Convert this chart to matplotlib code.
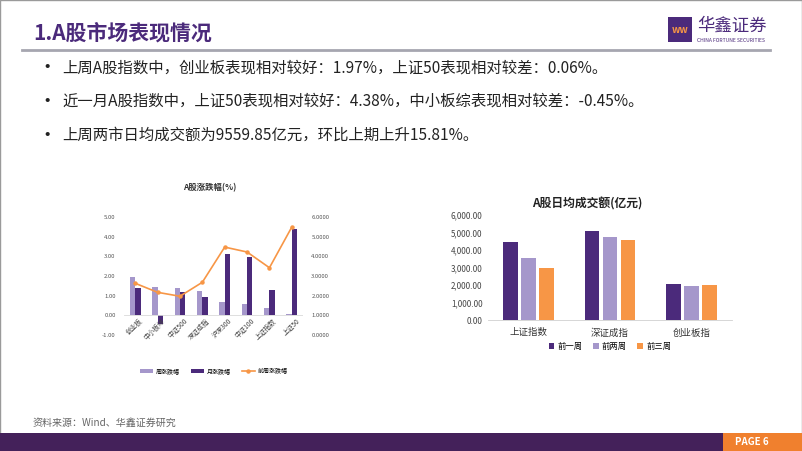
import numpy as np
import matplotlib
matplotlib.use("Agg")
import matplotlib.pyplot as plt
from matplotlib.patches import Rectangle

plt.rcParams['font.family'] = ['Noto Sans CJK SC', 'DejaVu Sans']

# left chart data
idx_names = ["创业板", "中小板综", "中证500", "深证成指", "沪深300", "中证100", "上证指数", "上证50"]
week_chg = [1.97, 1.45, 1.38, 1.22, 0.70, 0.57, 0.37, 0.06]
month_chg = [1.37, -0.45, 1.20, 0.95, 3.12, 2.95, 1.30, 4.38]
prev_week_chg = [2.63, 2.17, 1.97, 2.68, 4.47, 4.22, 3.42, 5.49]

# right chart data
vol_names = ["上证指数", "深证成指", "创业板指"]
vol_w1 = [4480, 5100, 2080]
vol_w2 = [3530, 4720, 1950]
vol_w3 = [3000, 4600, 2010]

PURPLE = "#4B2A7B"
LIGHT = "#A597CB"
ORANGE = "#F79646"

W, H = 802, 451
fig = plt.figure(figsize=(W / 100, H / 100), dpi=100)
fig.patch.set_facecolor("white")


def rect(x0, y0, x1, y1):
    # pixel box -> figure fraction
    return [x0 / W, 1 - y1 / H, (x1 - x0) / W, (y1 - y0) / H]


def fx(x):
    return x / W


def fy(y):
    return 1 - y / H


# slide frame
fig.patches.append(Rectangle((0, 0), 1, 1, transform=fig.transFigure, fill=False,
                             edgecolor="#9a9a9a", linewidth=1))

# header
fig.text(fx(33), fy(33), "1.A股市场表现情况", fontsize=15, fontweight="bold", color=PURPLE,
         va="center", ha="left")
fig.add_artist(plt.Line2D([fx(22), fx(770)], [fy(50), fy(50)], color="#A6A6B0", linewidth=2))
fig.patches.append(Rectangle((fx(668), fy(42)), 24 / W, 25 / H, transform=fig.transFigure,
                             facecolor=PURPLE, edgecolor="none"))
fig.text(fx(680), fy(30), "ww", fontsize=7, color=ORANGE, fontweight="bold", ha="center", va="center")
fig.text(fx(697), fy(26), "华鑫证券", fontsize=12.5, color=PURPLE, ha="left", va="center")
fig.text(fx(697), fy(40), "CHINA FORTUNE SECURITIES", fontsize=3.6, color=PURPLE, ha="left", va="center")

# bullets
bullets = [
    "上周A股指数中，创业板表现相对较好：1.97%，上证50表现相对较差：0.06%。",
    "近一月A股指数中，上证50表现相对较好：4.38%，中小板综表现相对较差：-0.45%。",
    "上周两市日均成交额为9559.85亿元，环比上期上升15.81%。",
]
for i, b in enumerate(bullets):
    y = 68 + i * 33.5
    fig.text(fx(37), fy(y), "•", fontsize=14, color="#222222", va="center")
    fig.text(fx(62), fy(y), b, fontsize=11.1, color="#222222", va="center")

# ---- left chart ----
ax1 = fig.add_axes(rect(124, 217, 303, 335))
x = np.arange(len(idx_names))
bw = 0.24
ax1.bar(x - bw / 2, week_chg, bw, color=LIGHT, label="周涨跌幅")
ax1.bar(x + bw / 2, month_chg, bw, color=PURPLE, label="月涨跌幅")
ax1.set_xlim(-0.5, len(idx_names) - 0.5)
ax1.set_ylim(-1, 5)
ax1.set_yticks(np.arange(-1, 5.1, 1))
ax1.set_yticklabels(["%.2f" % v for v in np.arange(-1, 5.1, 1)])
ax1.axhline(0, color="#d9d9d9", linewidth=0.6)
ax1.set_xticks([])
# category labels sit on the zero line, like Excel does
for i, name in enumerate(idx_names):
    ax1.text(i + 0.15, -0.08, name, rotation=45, ha="right", va="top", rotation_mode="anchor",
             fontsize=4.8, color="#444444")
ax1.tick_params(axis="y", length=0, labelsize=4.3, colors="#555555", pad=6)
for s in ax1.spines.values():
    s.set_visible(False)

ax1b = ax1.twinx()
ax1b.plot(x, prev_week_chg, color=ORANGE, linewidth=1.2, marker="o", markersize=2.2,
          label="前周涨跌幅")
ax1b.set_ylim(0, 6)
ax1b.set_yticks(np.arange(0, 6.1, 1))
ax1b.set_yticklabels(["%.4f" % v for v in np.arange(0, 6.1, 1)])
ax1b.tick_params(axis="y", length=0, labelsize=4.3, colors="#555555", pad=6)
for s in ax1b.spines.values():
    s.set_visible(False)

fig.text(fx(210), fy(188), "A股涨跌幅(%)", fontsize=6, fontweight="bold", color="#333333",
         ha="center", va="center")
h1, l1 = ax1.get_legend_handles_labels()
h2, l2 = ax1b.get_legend_handles_labels()
fig.legend(h1 + h2, l1 + l2, loc="center", bbox_to_anchor=(fx(214), fy(371)), ncol=3,
           frameon=False, fontsize=4.3, handlelength=2.2, handleheight=0.5, columnspacing=1.8,
           handletextpad=0.5)

# ---- right chart ----
ax2 = fig.add_axes(rect(488, 215, 732, 320))
x2 = np.arange(len(vol_names))
bw2 = 0.18
step = 0.22
ax2.bar(x2 - step, vol_w1, bw2, color=PURPLE, label="前一周")
ax2.bar(x2, vol_w2, bw2, color=LIGHT, label="前两周")
ax2.bar(x2 + step, vol_w3, bw2, color=ORANGE, label="前三周")
ax2.set_xlim(-0.5, len(vol_names) - 0.5)
ax2.set_ylim(0, 6000)
ax2.set_yticks(np.arange(0, 6001, 1000))
ax2.set_yticklabels(["{:,.2f}".format(v) for v in np.arange(0, 6001, 1000)])
ax2.set_xticks(x2)
ax2.set_xticklabels(vol_names)
ax2.tick_params(axis="x", length=0, labelsize=6.8, pad=6, colors="#333333")
ax2.tick_params(axis="y", length=0, labelsize=5.8, colors="#444444", pad=4)
for k, s in ax2.spines.items():
    s.set_visible(k == "bottom")
ax2.spines["bottom"].set_color("#d0d0d0")
ax2.spines["bottom"].set_linewidth(0.6)

fig.text(fx(587), fy(204), "A股日均成交额(亿元)", fontsize=8.5, fontweight="bold", color="#222222",
         ha="center", va="center")
ax2.legend(loc="center", bbox_to_anchor=(0.5, -0.25), ncol=3, frameon=False, fontsize=6,
           handlelength=0.7, handleheight=0.7, columnspacing=1.2, handletextpad=0.4)

# footer
fig.text(fx(33), fy(423), "资料来源：Wind、华鑫证券研究", fontsize=7.2, color="#666666", va="center")
fig.patches.append(Rectangle((0, 0), 1, 18 / H, transform=fig.transFigure,
                             facecolor="#44215A", edgecolor="none"))
fig.patches.append(Rectangle((fx(723), 0), 79 / W, 18 / H, transform=fig.transFigure,
                             facecolor="#F0802E", edgecolor="none"))
fig.text(fx(735), fy(442), "PAGE 6", fontsize=7, color="white", fontweight="bold",
         ha="left", va="center")

fig.savefig("out.png", dpi=100, facecolor="white")
